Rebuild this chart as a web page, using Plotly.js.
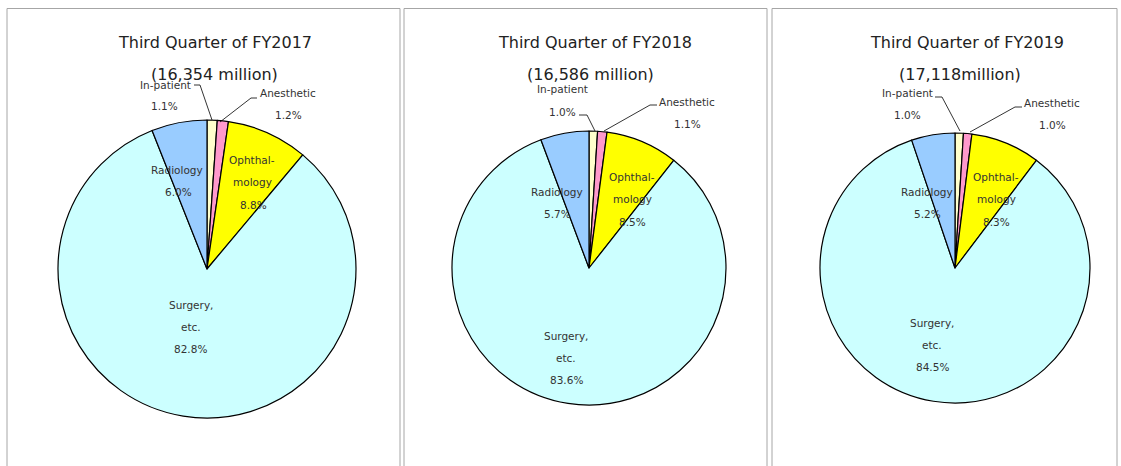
<!DOCTYPE html>
<html>
<head>
<meta charset="utf-8">
<script src="https://cdn.plot.ly/plotly-3.0.1.min.js"></script>
<style>html,body{margin:0;padding:0;background:#fff;}#chart{width:1121px;height:466px;}</style>
</head>
<body>
<div id="chart"></div>
<script>
// ---- data ----
const categories = ["In-patient", "Anesthetic", "Ophthalmology", "Surgery, etc.", "Radiology"];
const labelLines = [["In-patient"], ["Anesthetic"], ["Ophthal-", "mology"], ["Surgery,", "etc."], ["Radiology"]];
const periods = ["Third Quarter of FY2017", "Third Quarter of FY2018", "Third Quarter of FY2019"];
const totals = ["(16,354 million)", "(16,586 million)", "(17,118million)"];
const share2017 = [1.1, 1.2, 8.8, 82.8, 6.0];
const share2018 = [1.0, 1.1, 8.5, 83.6, 5.7];
const share2019 = [1.0, 1.0, 8.3, 84.5, 5.2];
const shares = [share2017, share2018, share2019];

// ---- styling / layout ----
const W = 1121, H = 466;
const colors = ["#FFFFCC", "#FF99CC", "#FFFF00", "#CCFFFF", "#99CCFF"];
const px = x => x / W;
const py = y => 1 - y / H;
const pies = [ {cx: 207, cy: 269, r: 149}, {cx: 589, cy: 268, r: 137}, {cx: 955, cy: 268, r: 135} ];
const panels = [ [7, 400], [404, 767], [772, 1117] ];
const titlePos = [ {x: 215, y: 43, tx: 214, ty: 74}, {x: 595, y: 43, tx: 590, ty: 74}, {x: 967, y: 43, tx: 960, ty: 74} ];
// per panel, per category: [name x, name y, pct x, pct y]
const labelPos = [
  [[165, 85, 164, 106], [288, 93, 288, 115], [252, 160, 253, 205], [191, 305, 190, 349], [177, 170, 178, 192]],
  [[562, 89, 562, 112], [687, 102, 687, 124], [632, 177, 632, 222], [566, 336, 566, 380], [557, 192, 557, 214]],
  [[907, 93, 907, 115], [1052, 103, 1052, 125], [996, 177, 996, 222], [932, 323, 932, 367], [927, 192, 927, 214]]
];
const leaders = [
  [[[194, 85], [200, 85], [212, 120]], [[257, 98], [251, 98], [220, 122]]],
  [[[579, 115], [587, 115], [595, 131]], [[657, 105], [650, 105], [604, 131]]],
  [[[935, 97], [942, 97], [960, 131]], [[1022, 107], [1015, 107], [970, 132]]]
];
const lineGap = 22;
const font = "DejaVu Sans, Verdana, sans-serif";

const traces = shares.map((vals, i) => {
  const p = pies[i];
  return {
    type: "pie",
    labels: categories,
    values: vals,
    sort: false,
    direction: "clockwise",
    rotation: 0,
    textinfo: "none",
    hoverinfo: "label+percent",
    showlegend: false,
    marker: {colors: colors, line: {color: "#000", width: 1.2}},
    domain: {x: [px(p.cx - p.r), px(p.cx + p.r)], y: [py(p.cy + p.r), py(p.cy - p.r)]}
  };
});

const annotations = [];
const shapes = [];
panels.forEach((pn, i) => {
  shapes.push({type: "path", xref: "paper", yref: "paper",
    path: `M ${px(pn[0])} ${py(H + 5)} L ${px(pn[0])} ${py(8.5)} L ${px(pn[1])} ${py(8.5)} L ${px(pn[1])} ${py(H + 5)}`,
    line: {color: "#A6A6A6", width: 1}});
  const t = titlePos[i];
  annotations.push({xref: "paper", yref: "paper", x: px(t.x), y: py(t.y), text: periods[i], showarrow: false,
    xanchor: "center", yanchor: "middle", font: {family: font, size: 16, color: "#222"}});
  annotations.push({xref: "paper", yref: "paper", x: px(t.tx), y: py(t.ty), text: totals[i], showarrow: false,
    xanchor: "center", yanchor: "middle", font: {family: font, size: 16, color: "#222"}});
  categories.forEach((c, k) => {
    const lp = labelPos[i][k];
    labelLines[k].forEach((ln, j) => {
      annotations.push({xref: "paper", yref: "paper", x: px(lp[0]), y: py(lp[1] + j * lineGap), text: ln, showarrow: false,
        xanchor: "center", yanchor: "middle", font: {family: font, size: 10.5, color: "#333"}});
    });
    annotations.push({xref: "paper", yref: "paper", x: px(lp[2]), y: py(lp[3]), text: shares[i][k].toFixed(1) + "%", showarrow: false,
      xanchor: "center", yanchor: "middle", font: {family: font, size: 10.5, color: "#333"}});
  });
  leaders[i].forEach(pts => {
    shapes.push({type: "path", xref: "paper", yref: "paper",
      path: pts.map((q, m) => (m ? "L " : "M ") + px(q[0]) + " " + py(q[1])).join(" "),
      line: {color: "#000", width: 0.8}});
  });
});

const layout = {
  width: W, height: H,
  margin: {l: 0, r: 0, t: 0, b: 0},
  paper_bgcolor: "#fff",
  showlegend: false,
  annotations: annotations,
  shapes: shapes
};
Plotly.newPlot("chart", traces, layout, {displayModeBar: false, staticPlot: true});
</script>
</body>
</html>
